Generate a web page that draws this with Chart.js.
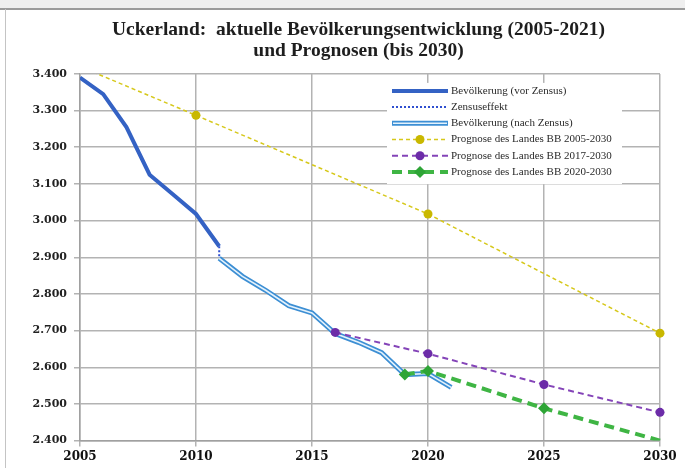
<!DOCTYPE html>
<html>
<head>
<meta charset="utf-8">
<title>Uckerland Bevölkerung</title>
<script src="https://cdn.jsdelivr.net/npm/chart.js@4/dist/chart.umd.min.js"></script>
<style>
    html, body { margin: 0; padding: 0; background: #fff; }
    #wrap { width: 685px; height: 468px; position: relative; }
</style>
</head>
<body>
<div id="wrap"><canvas id="uckerland"></canvas></div>
<script>
// Werte (Einwohner)
var yearsVor = [2005, 2006, 2007, 2008, 2009, 2010, 2011];
var popVor = [3390, 3345, 3255, 3125, 3072, 3018, 2930];

var yearsZensus = [2011, 2011];
var popZensus = [2930, 2897];

var yearsNach = [2011, 2012, 2013, 2014, 2015, 2016, 2017, 2018, 2019, 2020, 2021];
var popNach = [2897, 2848, 2810, 2768, 2748, 2692, 2668, 2640, 2580, 2583, 2545];

var yearsProg05 = [2005, 2010, 2020, 2030];
var popProg05 = [3420, 3287, 3018, 2693];

var yearsProg17 = [2016, 2020, 2025, 2030];
var popProg17 = [2695, 2637, 2553, 2477];

var yearsProg20 = [2019, 2020, 2025, 2030];
var popProg20 = [2580, 2590, 2488, 2400];

var xTicks = [2005, 2010, 2015, 2020, 2025, 2030];
var yTicks = [2400, 2500, 2600, 2700, 2800, 2900, 3000, 3100, 3200, 3300, 3400];

var titleLines = ['Uckerland:  aktuelle Bevölkerungsentwicklung (2005-2021)', 'und Prognosen (bis 2030)'];

function pairs(xs, ys) {
    return xs.map(function (x, i) { return { x: x, y: ys[i] }; });
}

// 3400 -> "3.400"
function deNumber(v) {
    var t = Math.floor(v / 1000);
    var r = String(Math.round(v % 1000));
    while (r.length < 3) r = '0' + r;
    return t + '.' + r;
}

var clipBox = { left: 0, top: 0, right: 8, bottom: 0 };

var innerNach = {
    label: '',
    data: pairs(yearsNach, popNach),
    borderColor: '#e4f2fc',
    borderWidth: 1.6,
    pointRadius: 0,
    order: 4,
    clip: clipBox,
    noLegend: true
};

var datasets = [
    {
        label: 'Bevölkerung (vor Zensus)',
        data: pairs(yearsVor, popVor),
        borderColor: '#3462c4',
        borderWidth: 4,
        pointRadius: 0,
        order: 6,
        clip: clipBox
    },
    {
        label: 'Zensuseffekt',
        data: pairs(yearsZensus, popZensus),
        borderColor: '#2f4fd0',
        borderWidth: 2,
        borderDash: [2, 2],
        pointRadius: 0,
        order: 7,
        clip: clipBox
    },
    {
        label: 'Bevölkerung (nach Zensus)',
        data: pairs(yearsNach, popNach),
        borderColor: '#3d8fd4',
        borderWidth: 5,
        pointRadius: 0,
        order: 5,
        clip: clipBox,
        legendInner: innerNach
    },
    innerNach,
    {
        label: 'Prognose des Landes BB 2005-2030',
        data: pairs(yearsProg05, popProg05),
        borderColor: '#d6c81a',
        backgroundColor: '#c9b800',
        borderWidth: 1.5,
        borderDash: [4, 3],
        pointRadius: 4.5,
        pointBorderWidth: 0,
        pointStyle: 'circle',
        order: 3,
        clip: clipBox
    },
    {
        label: 'Prognose des Landes BB 2017-2030',
        data: pairs(yearsProg17, popProg17),
        borderColor: '#8444b8',
        backgroundColor: '#6c2ca8',
        borderWidth: 2,
        borderDash: [6, 4],
        pointRadius: 4.5,
        pointBorderWidth: 0,
        pointStyle: 'circle',
        order: 2,
        clip: clipBox
    },
    {
        label: 'Prognose des Landes BB 2020-2030',
        data: pairs(yearsProg20, popProg20),
        borderColor: '#3fb544',
        backgroundColor: '#2ea536',
        borderWidth: 4,
        borderDash: [10, 6],
        pointRadius: [6, 6, 6, 0],
        pointBorderWidth: 0,
        pointStyle: 'rectRot',
        order: 1,
        clip: clipBox
    }
];

//Frame around the whole picture, like the exported Excel chart
var framePlugin = {
    id: 'frame',
    afterLayout: function (chart) {
        //title is centred a bit right of the canvas middle in the original
        if (chart.titleBlock) chart.titleBlock.right = chart.width + 2;
    },
    beforeDraw: function (chart) {
        var ctx = chart.ctx;
        ctx.save();
        ctx.fillStyle = '#ffffff';
        ctx.fillRect(0, 0, chart.width, chart.height);
        ctx.fillStyle = '#efefef';
        ctx.fillRect(0, 0, chart.width, 8);
        ctx.strokeStyle = '#9b9b9b';
        ctx.lineWidth = 2;
        ctx.beginPath();
        ctx.moveTo(0, 9);
        ctx.lineTo(chart.width, 9);
        ctx.stroke();
        ctx.strokeStyle = '#c4c4c4';
        ctx.lineWidth = 1;
        ctx.beginPath();
        ctx.moveTo(5.5, 9);
        ctx.lineTo(5.5, chart.height);
        ctx.stroke();
        ctx.restore();
    }
};

//Legend sits inside the plot area, top right, on a white box
var legendPlugin = {
    id: 'innerLegend',
    afterDraw: function (chart) {
        var ctx = chart.ctx;
        var ca = chart.chartArea;
        var left = ca.left + 307;
        var top = ca.top + 9;
        var rowH = 16.2;
        var items = chart.data.datasets.filter(function (d) { return !d.noLegend; });

        ctx.save();
        ctx.fillStyle = '#ffffff';
        ctx.fillRect(left, top, 235, rowH * items.length + 4);

        items.forEach(function (ds, i) {
            var y = top + 8 + i * rowH;
            var x1 = left + 5, x2 = left + 61;
            ctx.save();
            ctx.strokeStyle = ds.borderColor;
            ctx.lineWidth = ds.borderWidth;
            ctx.setLineDash(ds.borderDash || []);
            ctx.beginPath();
            ctx.moveTo(x1, y);
            ctx.lineTo(x2, y);
            ctx.stroke();
            if (ds.legendInner) {
                ctx.strokeStyle = ds.legendInner.borderColor;
                ctx.lineWidth = ds.legendInner.borderWidth;
                ctx.beginPath();
                ctx.moveTo(x1 + 1, y);
                ctx.lineTo(x2 - 1, y);
                ctx.stroke();
            }
            ctx.restore();
            var r = Array.isArray(ds.pointRadius) ? ds.pointRadius[0] : ds.pointRadius;
            if (r > 0) {
                var cx = (x1 + x2) / 2;
                ctx.fillStyle = ds.backgroundColor;
                ctx.beginPath();
                if (ds.pointStyle === 'circle') {
                    ctx.arc(cx, y, r, 0, Math.PI * 2);
                } else {
                    ctx.moveTo(cx, y - r);
                    ctx.lineTo(cx + r, y);
                    ctx.lineTo(cx, y + r);
                    ctx.lineTo(cx - r, y);
                    ctx.closePath();
                }
                ctx.fill();
            }
            ctx.fillStyle = '#2a2a2a';
            ctx.font = '11px "Liberation Serif"';
            ctx.textAlign = 'left';
            ctx.textBaseline = 'middle';
            ctx.fillText(ds.label, x2 + 3, y);
        });
        ctx.restore();
    }
};

var ctx = document.getElementById('uckerland');

var chart = new Chart(ctx, {
    type: 'line',
    data: { datasets: datasets },
    options: {
        responsive: true,
        maintainAspectRatio: false,
        animation: false,
        layout: { padding: { left: 30, right: 25, top: 0, bottom: 1 } },
        elements: { line: { tension: 0 } },
        plugins: {
            legend: { display: false },
            tooltip: { enabled: false },
            title: {
                display: true,
                text: titleLines,
                color: '#1e1e1e',
                font: { family: 'Liberation Serif', size: 19.5, weight: 'bold', lineHeight: 1.1 },
                padding: { top: 19, bottom: 12 }
            }
        },
        scales: {
            x: {
                type: 'linear',
                min: 2005,
                max: 2030,
                afterBuildTicks: function (scale) {
                    scale.ticks = xTicks.map(function (v) { return { value: v }; });
                },
                ticks: {
                    color: '#111',
                    padding: 3,
                    font: { family: 'DejaVu Serif', size: 12, weight: 'bold' },
                    callback: function (v) { return String(v); }
                },
                grid: { color: '#b3b3b3', lineWidth: 1.5, tickLength: 6 },
                border: { color: '#a0a0a0', width: 1.5 }
            },
            y: {
                min: 2400,
                max: 3400,
                afterBuildTicks: function (scale) {
                    scale.ticks = yTicks.map(function (v) { return { value: v }; });
                },
                afterFit: function (scale) {
                    scale.width = 50;
                },
                ticks: {
                    color: '#222',
                    padding: 7,
                    font: { family: 'DejaVu Serif', size: 11, weight: 'bold' },
                    callback: function (v) { return deNumber(v); }
                },
                grid: { color: '#b3b3b3', lineWidth: 1.5, tickLength: 6 },
                border: { color: '#a0a0a0', width: 1.5 }
            }
        }
    },
    plugins: [framePlugin, legendPlugin]
});
</script>
</body>
</html>
